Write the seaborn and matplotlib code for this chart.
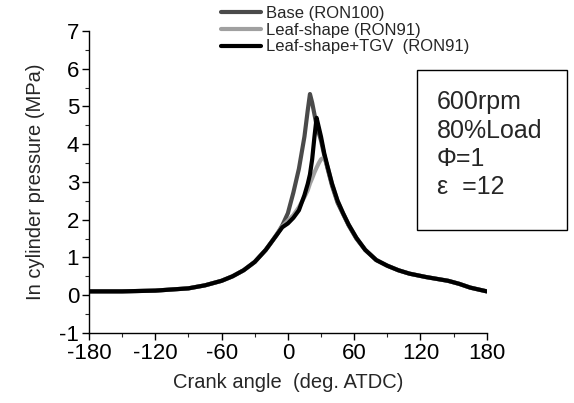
import numpy as np
import pandas as pd
import seaborn as sns
import matplotlib.pyplot as plt
from matplotlib.patches import Rectangle
from matplotlib.ticker import MultipleLocator

# crank angle (deg. ATDC)
angle = [-180, -150, -120, -90, -75, -60, -50, -40, -30, -20, -15, -10, -5, 0, 5, 10,
         15, 18, 20, 22, 24, 26, 28, 30, 33, 36, 40, 45, 50, 55, 62, 70, 80, 90,
         100, 110, 125, 135, 145, 155, 165, 180]

base_ron100 = [0.10, 0.10, 0.12, 0.18, 0.26, 0.38, 0.50, 0.66, 0.88, 1.20, 1.40, 1.60, 1.85,
               2.17, 2.72, 3.35, 4.20, 4.90, 5.33, 5.10, 4.80, 4.50, 4.30, 4.10, 3.70, 3.35,
               2.90, 2.45, 2.15, 1.85, 1.50, 1.20, 0.93, 0.78, 0.66, 0.57, 0.48, 0.43,
               0.38, 0.30, 0.20, 0.10]

leaf_ron91 = [0.10, 0.10, 0.12, 0.18, 0.26, 0.38, 0.50, 0.66, 0.88, 1.20, 1.40, 1.62, 1.82,
              1.97, 2.12, 2.33, 2.60, 2.78, 2.96, 3.10, 3.25, 3.38, 3.50, 3.60, 3.65, 3.40,
              2.95, 2.50, 2.17, 1.87, 1.52, 1.20, 0.93, 0.78, 0.66, 0.57, 0.48, 0.43,
              0.38, 0.30, 0.20, 0.10]

leaf_tgv_ron91 = [0.10, 0.10, 0.12, 0.18, 0.26, 0.38, 0.50, 0.66, 0.88, 1.20, 1.40, 1.60, 1.80,
                  1.90, 2.05, 2.25, 2.65, 2.95, 3.20, 3.60, 4.18, 4.70, 4.45, 4.20, 3.75, 3.40,
                  2.95, 2.50, 2.17, 1.87, 1.52, 1.20, 0.93, 0.78, 0.66, 0.57, 0.48, 0.43,
                  0.38, 0.30, 0.20, 0.10]

labels = ["Base (RON100)", "Leaf-shape (RON91)", "Leaf-shape+TGV  (RON91)"]
colors = ["#4a4a4a", "#a0a0a0", "#000000"]

df = pd.concat([
    pd.DataFrame({"angle": angle, "p": vals, "case": lab})
    for vals, lab in zip([base_ron100, leaf_ron91, leaf_tgv_ron91], labels)
])

sns.set_style("ticks")
plt.rcParams["font.family"] = ["Liberation Sans", "DejaVu Sans"]
plt.rcParams["axes.unicode_minus"] = False

fig = plt.figure(figsize=(5.74, 4.03), dpi=100)
ax = fig.add_axes([0.155, 0.174, 0.693, 0.749])

sns.lineplot(data=df, x="angle", y="p", hue="case", hue_order=labels,
             palette=dict(zip(labels, colors)), linewidth=3, sort=False,
             legend=False, ax=ax)

ax.set_xlim(-180, 180)
ax.set_ylim(-1, 7)
ax.xaxis.set_major_locator(MultipleLocator(60))
ax.xaxis.set_minor_locator(MultipleLocator(30))
ax.yaxis.set_major_locator(MultipleLocator(1))
ax.yaxis.set_minor_locator(MultipleLocator(0.5))
ax.tick_params(which="major", direction="out", length=5, width=1, labelsize=16,
               colors="black", pad=2)
ax.tick_params(which="minor", direction="out", length=3, width=0.8)
for s in ["top", "right"]:
    ax.spines[s].set_visible(False)
for s in ["left", "bottom"]:
    ax.spines[s].set_color("black")
    ax.spines[s].set_linewidth(1)

ax.set_xlabel("Crank angle  (deg. ATDC)", fontsize=14.5, labelpad=7)
ax.set_ylabel("In cylinder pressure (MPa)", fontsize=14.5, labelpad=10)

handles = [plt.Line2D([], [], color=c, linewidth=3) for c in colors]
fig.legend(handles, labels, loc="upper left", bbox_to_anchor=(0.385, 0.985),
           frameon=False, fontsize=12, handlelength=2.4, handletextpad=0.3,
           labelspacing=0.1, borderpad=0, borderaxespad=0)

# condition box
fig.add_artist(Rectangle((417 / 574, 1 - 230 / 403), 150 / 574, 160 / 403,
                         transform=fig.transFigure, fill=False, edgecolor="black",
                         linewidth=1))
box_lines = ["600rpm", "80%Load", "Φ=1", "ε  =12"]
for i, t in enumerate(box_lines):
    fig.text(437 / 574, 1 - (102 + 28.5 * i) / 403, t, fontsize=18, va="center", ha="left")

fig.savefig("out.png", dpi=100)
